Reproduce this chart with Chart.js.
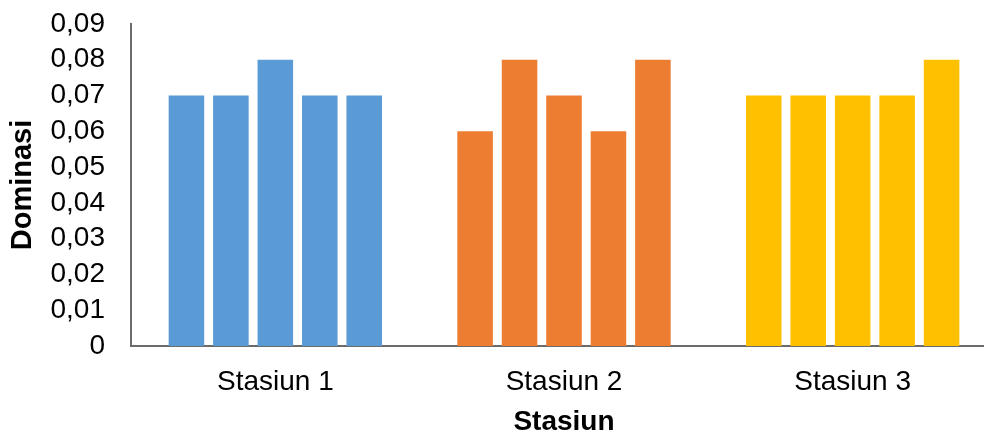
<!DOCTYPE html>
<html>
<head>
<meta charset="utf-8">
<script src="https://cdn.jsdelivr.net/npm/chart.js@4"></script>
<style>
  html, body { margin: 0; padding: 0; background: #fff; overflow: hidden; }
  #wrap { width: 1000px; height: 435px; position: relative; }
</style>
</head>
<body>
<div id="wrap"><canvas id="c" width="1000" height="435"></canvas></div>
<script>
// Stations on the x axis
const stations = ['Stasiun 1', 'Stasiun 2', 'Stasiun 3'];
// Dominance index values, five bars per station
const stasiun1 = [0.07, 0.07, 0.08, 0.07, 0.07];
const stasiun2 = [0.06, 0.08, 0.07, 0.06, 0.08];
const stasiun3 = [0.07, 0.07, 0.07, 0.07, 0.08];
// Fill colour for each station
const stationColors = ['#5B9BD5', '#ED7D31', '#FFC000'];
// Y axis tick values
const yTicks = [0, 0.01, 0.02, 0.03, 0.04, 0.05, 0.06, 0.07, 0.08, 0.09];

const perStation = [stasiun1, stasiun2, stasiun3];
const datasets = stasiun1.map((_, i) => ({
  label: 'Seri ' + (i + 1),
  data: perStation.map(s => s[i]),
  backgroundColor: stationColors,
  borderWidth: 0,
  barPercentage: 0.8,
  categoryPercentage: 0.77
}));

const font = { family: '"Liberation Sans", Arial, sans-serif', size: 28 };

new Chart(document.getElementById('c'), {
  type: 'bar',
  data: { labels: stations, datasets },
  options: {
    responsive: false,
    animation: false,
    layout: { padding: { top: 24, right: 3, left: 0, bottom: 0 } },
    plugins: { legend: { display: false }, tooltip: { enabled: false } },
    scales: {
      x: {
        grid: { display: false, drawTicks: false },
        border: { display: true, color: '#6b6b6b', width: 2 },
        ticks: { font, color: '#000', padding: 19, maxRotation: 0, autoSkip: false },
        title: {
          display: true, text: 'Stasiun', color: '#000',
          font: { ...font, weight: 'bold' }, padding: { top: 0, bottom: -4 }
        },
        afterFit(scale) {
          scale.height = 89;
          scale.paddingLeft = 0;
          scale.paddingRight = 0;
        }
      },
      y: {
        min: yTicks[0],
        max: yTicks[yTicks.length - 1],
        grid: { display: false, drawTicks: false },
        border: { display: true, color: '#6b6b6b', width: 2 },
        afterBuildTicks(scale) { scale.ticks = yTicks.map(v => ({ value: v })); },
        ticks: {
          font, color: '#000', padding: 26, autoSkip: false,
          callback: v => (v === 0 ? '0' : v.toFixed(2).replace('.', ','))
        },
        title: {
          display: true, text: 'Dominasi', color: '#000',
          font: { ...font, size: 29, weight: 'bold' }, padding: { top: 6, bottom: 0 }
        },
        afterFit(scale) {
          scale.width = 131;
          scale.paddingTop = 0;
          scale.paddingBottom = 0;
        }
      }
    }
  }
});
</script>
</body>
</html>
